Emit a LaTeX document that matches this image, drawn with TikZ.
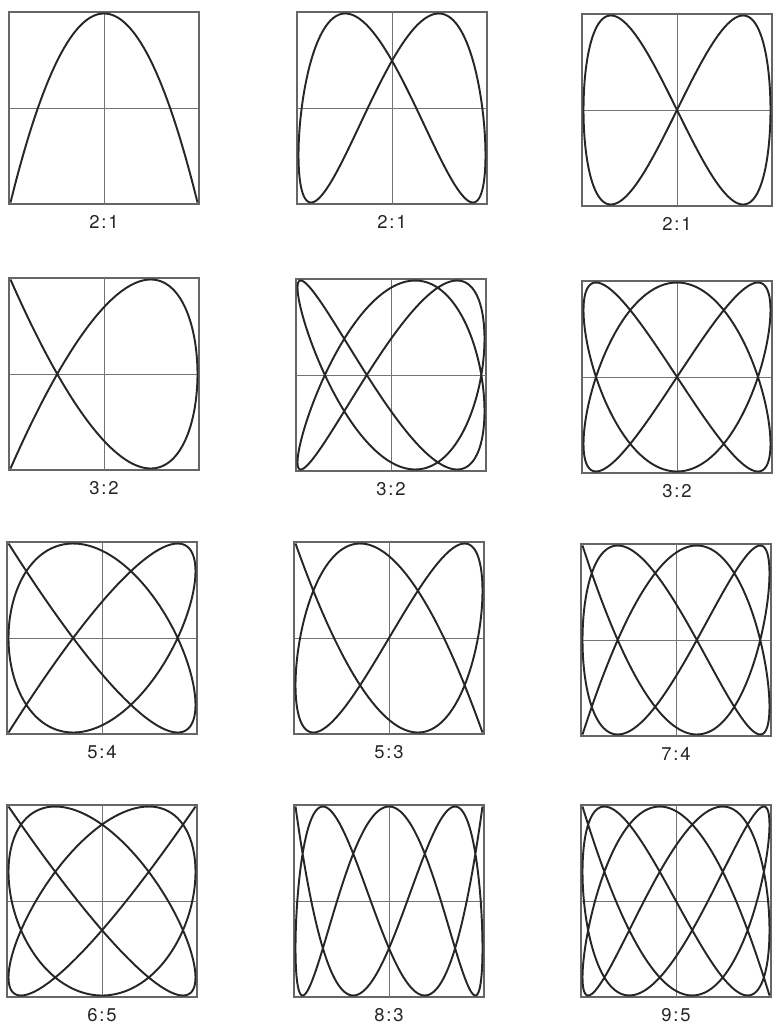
\documentclass[tikz,border=0pt]{standalone}
\usepackage{fontspec}
\newfontfamily\lblfont[LetterSpace=10]{TeX Gyre Heros}
\usetikzlibrary{positioning}

\begin{document}
\begin{tikzpicture}[x=0.02cm, y=-0.02cm,
    every node/.style={font=\lblfont\fontsize{10.5}{12}\selectfont, inner sep=0pt},
    framebox/.style={draw=black!60, line width=0.7pt},
    axisline/.style={draw=black!55, line width=0.55pt},
    figcurve/.style={draw=black!85, line width=1.1pt, smooth, samples=360},
    ratiolbl/.style={text=black!85},
  ]
  \useasboundingbox (0,0) rectangle (773,1025);
  % each panel: centre x/y, x = cos(p s + a), y = cos(q s + b), s from 0 to smax, label
  \foreach \cx/\cy/\p/\a/\q/\b/\smax/\lab/\nm in {
      104/108/1/0/2/180/180/2:1/fa,
      392/108/1/-90/2/-60/360/2:1/fb,
      677/110/1/-90/2/-90/360/2:1/fc,
      104/374/2/180/3/0/180/3:2/fd,
      391/375/2/-15/3/-90/360/3:2/fe,
      677/377/2/-90/3/-90/360/3:2/ff,
      102/638/4/180/5/0/180/5:4/fg,
      389/638/3/180/5/0/180/5:3/fh,
      676/640/4/180/7/0/180/7:4/fi,
      102/901/5/180/6/0/180/6:5/fj,
      389/901/3/180/8/0/180/8:3/fk,
      676/901/5/180/9/0/180/9:5/fl}
  {
    % frame and cross-hair
    \draw[framebox] (\cx-95,\cy-96) rectangle (\cx+95,\cy+96);
    \draw[axisline] (\cx-95,\cy) -- (\cx+95,\cy) (\cx,\cy-96) -- (\cx,\cy+96);
    % the figure itself
    \draw[figcurve] plot[variable=\s, domain=0:\smax]
      ({\cx+93.5*cos(\p*\s+\a)}, {\cy-94.5*cos(\q*\s+\b)});
    \coordinate (\nm-bot) at (\cx,\cy+96);
    \node[ratiolbl, below=2.3mm of \nm-bot] (\nm) {\lab};
  }
\end{tikzpicture}
\end{document}
